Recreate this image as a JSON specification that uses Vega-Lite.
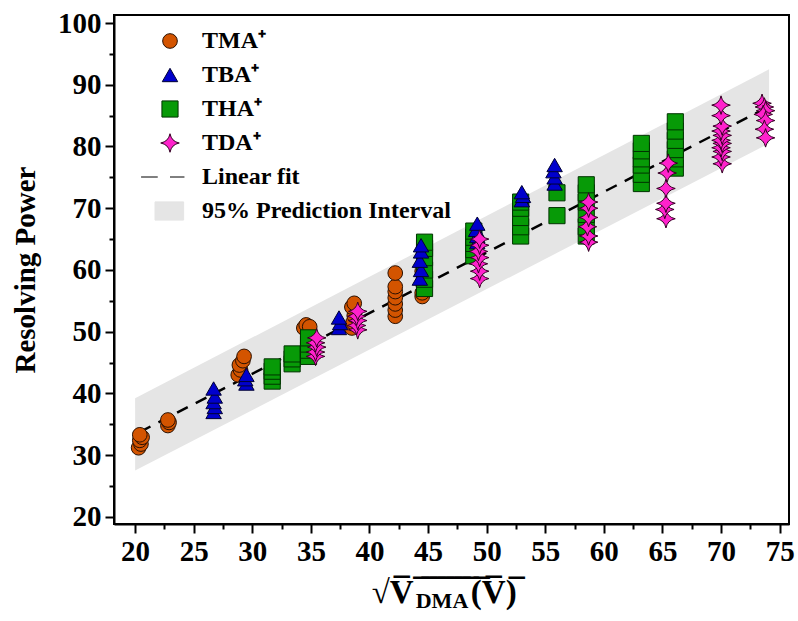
{
  "$schema": "https://vega.github.io/schema/vega-lite/v6.json",
  "width": 675,
  "height": 509,
  "autosize": {"type": "none"},
  "padding": {"left": 114, "top": 15, "right": 9, "bottom": 97},
  "background": "white",
  "config": {
    "view": {"stroke": "black", "strokeWidth": 2},
    "font": "Liberation Serif",
    "axis": {
      "labelFont": "Liberation Serif", "labelFontWeight": "bold", "labelFontSize": 29, "labelColor": "black",
      "titleFont": "Liberation Serif", "titleFontWeight": "bold", "titleColor": "black",
      "domainColor": "black", "domainWidth": 2, "tickColor": "black", "tickWidth": 2, "grid": false
    },
    "legend": {
      "labelFont": "Liberation Serif", "labelFontWeight": "bold", "labelFontSize": 24, "labelColor": "black",
      "rowPadding": 10, "padding": 0, "labelOffset": 20, "labelLimit": 500
    }
  },
  "title": {"text": "DMA", "orient": "bottom", "fontSize": 22, "font": "Liberation Serif", "fontWeight": "bold", "color": "black", "dx": -9.5, "dy": -22},
  "datasets": {
    "band": [
      {"x": 20.0, "lo": 27.5, "hi": 39.2},
      {"x": 74.1, "lo": 80.5, "hi": 92.5}
    ],
    "fit": [
      {"x": 20.4, "y": 33.75},
      {"x": 73.6, "y": 86.0}
    ],
    "pts": [
      {"x": 20.3, "y": 31.2, "s": "TMA⁺"}, {"x": 20.5, "y": 31.8, "s": "TMA⁺"}, {"x": 20.4, "y": 32.4, "s": "TMA⁺"}, {"x": 20.6, "y": 32.9, "s": "TMA⁺"}, {"x": 20.4, "y": 33.3, "s": "TMA⁺"},
      {"x": 22.8, "y": 34.8, "s": "TMA⁺"}, {"x": 22.9, "y": 35.3, "s": "TMA⁺"}, {"x": 22.8, "y": 35.7, "s": "TMA⁺"},
      {"x": 28.8, "y": 43.0, "s": "TMA⁺"}, {"x": 29.0, "y": 43.8, "s": "TMA⁺"}, {"x": 28.9, "y": 44.6, "s": "TMA⁺"}, {"x": 29.2, "y": 45.3, "s": "TMA⁺"}, {"x": 29.3, "y": 46.0, "s": "TMA⁺"},
      {"x": 34.4, "y": 50.6, "s": "TMA⁺"}, {"x": 34.6, "y": 51.1, "s": "TMA⁺"}, {"x": 34.9, "y": 50.8, "s": "TMA⁺"},
      {"x": 38.5, "y": 50.6, "s": "TMA⁺"}, {"x": 38.6, "y": 51.5, "s": "TMA⁺"}, {"x": 38.7, "y": 52.6, "s": "TMA⁺"}, {"x": 38.5, "y": 54.0, "s": "TMA⁺"}, {"x": 38.7, "y": 54.6, "s": "TMA⁺"},
      {"x": 42.2, "y": 52.5, "s": "TMA⁺"}, {"x": 42.2, "y": 53.5, "s": "TMA⁺"}, {"x": 42.2, "y": 54.5, "s": "TMA⁺"}, {"x": 42.2, "y": 55.5, "s": "TMA⁺"}, {"x": 42.2, "y": 56.5, "s": "TMA⁺"}, {"x": 42.2, "y": 57.3, "s": "TMA⁺"}, {"x": 42.2, "y": 59.5, "s": "TMA⁺"},
      {"x": 44.5, "y": 55.7, "s": "TMA⁺"}, {"x": 44.5, "y": 56.3, "s": "TMA⁺"}, {"x": 44.6, "y": 57.5, "s": "TMA⁺"}, {"x": 44.5, "y": 59.8, "s": "TMA⁺"},
      {"x": 31.7, "y": 42.0, "s": "THA⁺"}, {"x": 31.7, "y": 42.8, "s": "THA⁺"}, {"x": 31.7, "y": 43.6, "s": "THA⁺"}, {"x": 31.7, "y": 44.3, "s": "THA⁺"},
      {"x": 33.4, "y": 44.8, "s": "THA⁺"}, {"x": 33.4, "y": 45.6, "s": "THA⁺"}, {"x": 33.4, "y": 46.4, "s": "THA⁺"},
      {"x": 34.8, "y": 46.0, "s": "THA⁺"}, {"x": 34.8, "y": 47.0, "s": "THA⁺"}, {"x": 34.8, "y": 48.0, "s": "THA⁺"}, {"x": 34.8, "y": 49.0, "s": "THA⁺"},
      {"x": 44.7, "y": 57.0, "s": "THA⁺"}, {"x": 44.7, "y": 58.5, "s": "THA⁺"}, {"x": 44.7, "y": 60.0, "s": "THA⁺"}, {"x": 44.7, "y": 62.0, "s": "THA⁺"}, {"x": 44.7, "y": 63.5, "s": "THA⁺"}, {"x": 44.7, "y": 64.5, "s": "THA⁺"},
      {"x": 48.9, "y": 62.3, "s": "THA⁺"}, {"x": 48.9, "y": 63.3, "s": "THA⁺"}, {"x": 48.9, "y": 64.3, "s": "THA⁺"}, {"x": 48.9, "y": 65.3, "s": "THA⁺"}, {"x": 48.9, "y": 66.3, "s": "THA⁺"},
      {"x": 52.9, "y": 65.5, "s": "THA⁺"}, {"x": 52.9, "y": 67.0, "s": "THA⁺"}, {"x": 52.9, "y": 68.5, "s": "THA⁺"}, {"x": 52.9, "y": 70.0, "s": "THA⁺"}, {"x": 52.9, "y": 71.0, "s": "THA⁺"},
      {"x": 56.0, "y": 68.8, "s": "THA⁺"}, {"x": 56.0, "y": 72.5, "s": "THA⁺"},
      {"x": 58.5, "y": 65.5, "s": "THA⁺"}, {"x": 58.5, "y": 67.0, "s": "THA⁺"}, {"x": 58.5, "y": 69.0, "s": "THA⁺"}, {"x": 58.5, "y": 71.0, "s": "THA⁺"}, {"x": 58.5, "y": 72.5, "s": "THA⁺"}, {"x": 58.5, "y": 73.8, "s": "THA⁺"},
      {"x": 63.2, "y": 74.0, "s": "THA⁺"}, {"x": 63.2, "y": 75.5, "s": "THA⁺"}, {"x": 63.2, "y": 77.0, "s": "THA⁺"}, {"x": 63.2, "y": 78.0, "s": "THA⁺"}, {"x": 63.2, "y": 79.3, "s": "THA⁺"}, {"x": 63.2, "y": 80.5, "s": "THA⁺"},
      {"x": 66.1, "y": 76.5, "s": "THA⁺"}, {"x": 66.1, "y": 78.0, "s": "THA⁺"}, {"x": 66.1, "y": 79.5, "s": "THA⁺"}, {"x": 66.1, "y": 81.0, "s": "THA⁺"}, {"x": 66.1, "y": 82.5, "s": "THA⁺"}, {"x": 66.1, "y": 84.0, "s": "THA⁺"},
      {"x": 26.7, "y": 37.0, "s": "TBA⁺"}, {"x": 26.8, "y": 37.8, "s": "TBA⁺"}, {"x": 26.7, "y": 38.6, "s": "TBA⁺"}, {"x": 26.8, "y": 39.5, "s": "TBA⁺"}, {"x": 26.7, "y": 40.8, "s": "TBA⁺"},
      {"x": 29.5, "y": 41.6, "s": "TBA⁺"}, {"x": 29.4, "y": 42.3, "s": "TBA⁺"}, {"x": 29.5, "y": 43.0, "s": "TBA⁺"},
      {"x": 37.4, "y": 50.6, "s": "TBA⁺"}, {"x": 37.5, "y": 51.4, "s": "TBA⁺"}, {"x": 37.4, "y": 52.3, "s": "TBA⁺"},
      {"x": 44.3, "y": 58.6, "s": "TBA⁺"}, {"x": 44.4, "y": 60.0, "s": "TBA⁺"}, {"x": 44.3, "y": 61.5, "s": "TBA⁺"}, {"x": 44.4, "y": 63.0, "s": "TBA⁺"}, {"x": 44.4, "y": 64.0, "s": "TBA⁺"},
      {"x": 49.2, "y": 64.5, "s": "TBA⁺"}, {"x": 49.2, "y": 65.5, "s": "TBA⁺"}, {"x": 49.1, "y": 66.5, "s": "TBA⁺"}, {"x": 49.2, "y": 67.5, "s": "TBA⁺"},
      {"x": 53.0, "y": 71.3, "s": "TBA⁺"}, {"x": 53.1, "y": 72.0, "s": "TBA⁺"}, {"x": 53.0, "y": 72.6, "s": "TBA⁺"},
      {"x": 55.8, "y": 74.0, "s": "TBA⁺"}, {"x": 55.8, "y": 75.0, "s": "TBA⁺"}, {"x": 55.7, "y": 76.0, "s": "TBA⁺"}, {"x": 55.8, "y": 77.0, "s": "TBA⁺"},
      {"x": 35.4, "y": 46.0, "s": "TDA⁺"}, {"x": 35.4, "y": 46.7, "s": "TDA⁺"}, {"x": 35.5, "y": 47.5, "s": "TDA⁺"}, {"x": 35.4, "y": 48.2, "s": "TDA⁺"}, {"x": 35.5, "y": 49.0, "s": "TDA⁺"},
      {"x": 39.0, "y": 50.3, "s": "TDA⁺"}, {"x": 38.9, "y": 51.0, "s": "TDA⁺"}, {"x": 39.0, "y": 51.8, "s": "TDA⁺"}, {"x": 38.9, "y": 52.5, "s": "TDA⁺"}, {"x": 39.0, "y": 53.3, "s": "TDA⁺"},
      {"x": 49.4, "y": 58.6, "s": "TDA⁺"}, {"x": 49.4, "y": 59.8, "s": "TDA⁺"}, {"x": 49.3, "y": 61.0, "s": "TDA⁺"}, {"x": 49.4, "y": 62.0, "s": "TDA⁺"}, {"x": 49.3, "y": 63.0, "s": "TDA⁺"}, {"x": 49.4, "y": 64.0, "s": "TDA⁺"}, {"x": 49.4, "y": 65.0, "s": "TDA⁺"},
      {"x": 58.7, "y": 64.5, "s": "TDA⁺"}, {"x": 58.7, "y": 65.5, "s": "TDA⁺"}, {"x": 58.6, "y": 67.0, "s": "TDA⁺"}, {"x": 58.7, "y": 68.5, "s": "TDA⁺"}, {"x": 58.7, "y": 70.0, "s": "TDA⁺"}, {"x": 58.7, "y": 71.0, "s": "TDA⁺"},
      {"x": 65.3, "y": 68.3, "s": "TDA⁺"}, {"x": 65.2, "y": 69.8, "s": "TDA⁺"}, {"x": 65.3, "y": 70.8, "s": "TDA⁺"}, {"x": 65.3, "y": 73.2, "s": "TDA⁺"}, {"x": 65.4, "y": 75.7, "s": "TDA⁺"}, {"x": 65.5, "y": 77.3, "s": "TDA⁺"},
      {"x": 70.1, "y": 77.2, "s": "TDA⁺"}, {"x": 70.0, "y": 78.3, "s": "TDA⁺"}, {"x": 70.1, "y": 79.2, "s": "TDA⁺"}, {"x": 70.0, "y": 79.8, "s": "TDA⁺"}, {"x": 70.1, "y": 80.5, "s": "TDA⁺"}, {"x": 70.0, "y": 81.0, "s": "TDA⁺"}, {"x": 70.1, "y": 81.8, "s": "TDA⁺"}, {"x": 70.0, "y": 82.5, "s": "TDA⁺"}, {"x": 70.1, "y": 83.3, "s": "TDA⁺"}, {"x": 70.0, "y": 85.0, "s": "TDA⁺"}, {"x": 70.0, "y": 86.7, "s": "TDA⁺"},
      {"x": 73.5, "y": 87.0, "s": "TDA⁺"}, {"x": 73.7, "y": 86.4, "s": "TDA⁺"}, {"x": 73.8, "y": 85.8, "s": "TDA⁺"}, {"x": 73.6, "y": 85.2, "s": "TDA⁺"}, {"x": 73.8, "y": 84.2, "s": "TDA⁺"}, {"x": 73.7, "y": 82.8, "s": "TDA⁺"}, {"x": 73.8, "y": 81.4, "s": "TDA⁺"}
    ]
  },
  "encoding": {
    "x": {
      "field": "x", "type": "quantitative",
      "scale": {"domain": [18.2, 75.8], "nice": false, "zero": false},
      "axis": {
        "values": [20, 22.5, 25, 27.5, 30, 32.5, 35, 37.5, 40, 42.5, 45, 47.5, 50, 52.5, 55, 57.5, 60, 62.5, 65, 67.5, 70, 72.5, 75],
        "labelExpr": "datum.value % 5 === 0 ? datum.label : ''",
        "tickSize": {"condition": {"test": "datum.value % 5 === 0", "value": 9}, "value": 5},
        "labelPadding": 4,
        "title": "√V̅ ̅ ̅ ̅ ̅ ̅ ̅ ̅(̅V̅)̅",
        "titleX": 329.7,
        "titleFontSize": 33, "titlePadding": 10
      }
    },
    "y": {
      "field": "y", "type": "quantitative",
      "scale": {"domain": [18.85, 101.3], "nice": false, "zero": false},
      "axis": {
        "values": [20, 25, 30, 35, 40, 45, 50, 55, 60, 65, 70, 75, 80, 85, 90, 95, 100],
        "labelExpr": "datum.value % 10 === 0 ? datum.label : ''",
        "tickSize": {"condition": {"test": "datum.value % 10 === 0", "value": 9}, "value": 5},
        "labelPadding": 4,
        "title": "Resolving Power",
        "titleFontSize": 29, "titlePadding": 17
      }
    }
  },
  "layer": [
    {
      "data": {"name": "band"},
      "mark": {"type": "area", "color": "#e5e5e5", "opacity": 1},
      "encoding": {"y": {"field": "lo", "type": "quantitative"}, "y2": {"field": "hi"}}
    },
    {
      "data": {"name": "fit"},
      "mark": {"type": "line", "color": "black", "strokeWidth": 2.5, "strokeDash": [12, 9]},
      "encoding": {}
    },
    {
      "data": {"name": "pts"},
      "mark": {"type": "point", "filled": true, "opacity": 1, "strokeWidth": 1},
      "encoding": {
        "fill": {
          "field": "s", "type": "nominal", "sort": null,
          "scale": {"domain": ["TMA⁺", "TBA⁺", "THA⁺", "TDA⁺", "Linear fit", "95% Prediction Interval"], "range": ["#d35400", "#0000cc", "#079a07", "#ff22cc", "transparent", "#e5e5e5"]},
          "legend": {"title": null, "orient": "none", "legendX": 44, "legendY": 14}
        },
        "stroke": {
          "field": "s", "type": "nominal", "sort": null,
          "scale": {"domain": ["TMA⁺", "TBA⁺", "THA⁺", "TDA⁺", "Linear fit", "95% Prediction Interval"], "range": ["#2a1000", "#000033", "#003300", "#330022", "black", "#e5e5e5"]},
          "legend": {"title": null, "orient": "none", "legendX": 44, "legendY": 14}
        },
        "shape": {
          "field": "s", "type": "nominal", "sort": null,
          "scale": {"domain": ["TMA⁺", "TBA⁺", "THA⁺", "TDA⁺", "Linear fit", "95% Prediction Interval"], "range": ["circle", "triangle-up", "square", "M0,-1.1Q0.18,-0.18,1.1,0Q0.18,0.18,0,1.1Q-0.18,0.18,-1.1,0Q-0.18,-0.18,0,-1.1Z", "M-3.3,0H-1.4M0,0H1.65", "M-1.65,-1H1.5V1H-1.65Z"]},
          "legend": {"title": null, "orient": "none", "legendX": 44, "legendY": 14}
        },
        "size": {
          "field": "s", "type": "nominal", "sort": null,
          "scale": {"domain": ["TMA⁺", "TBA⁺", "THA⁺", "TDA⁺", "Linear fit", "95% Prediction Interval"], "range": [215, 330, 250, 210, 200, 200]},
          "legend": {"title": null, "orient": "none", "legendX": 44, "legendY": 14}
        },
        "strokeWidth": {
          "field": "s", "type": "nominal", "sort": null,
          "scale": {"domain": ["TMA⁺", "TBA⁺", "THA⁺", "TDA⁺", "Linear fit", "95% Prediction Interval"], "range": [1, 1, 1, 1, 3, 0]},
          "legend": {"title": null, "orient": "none", "legendX": 44, "legendY": 14}
        }
      }
    }
  ]
}
